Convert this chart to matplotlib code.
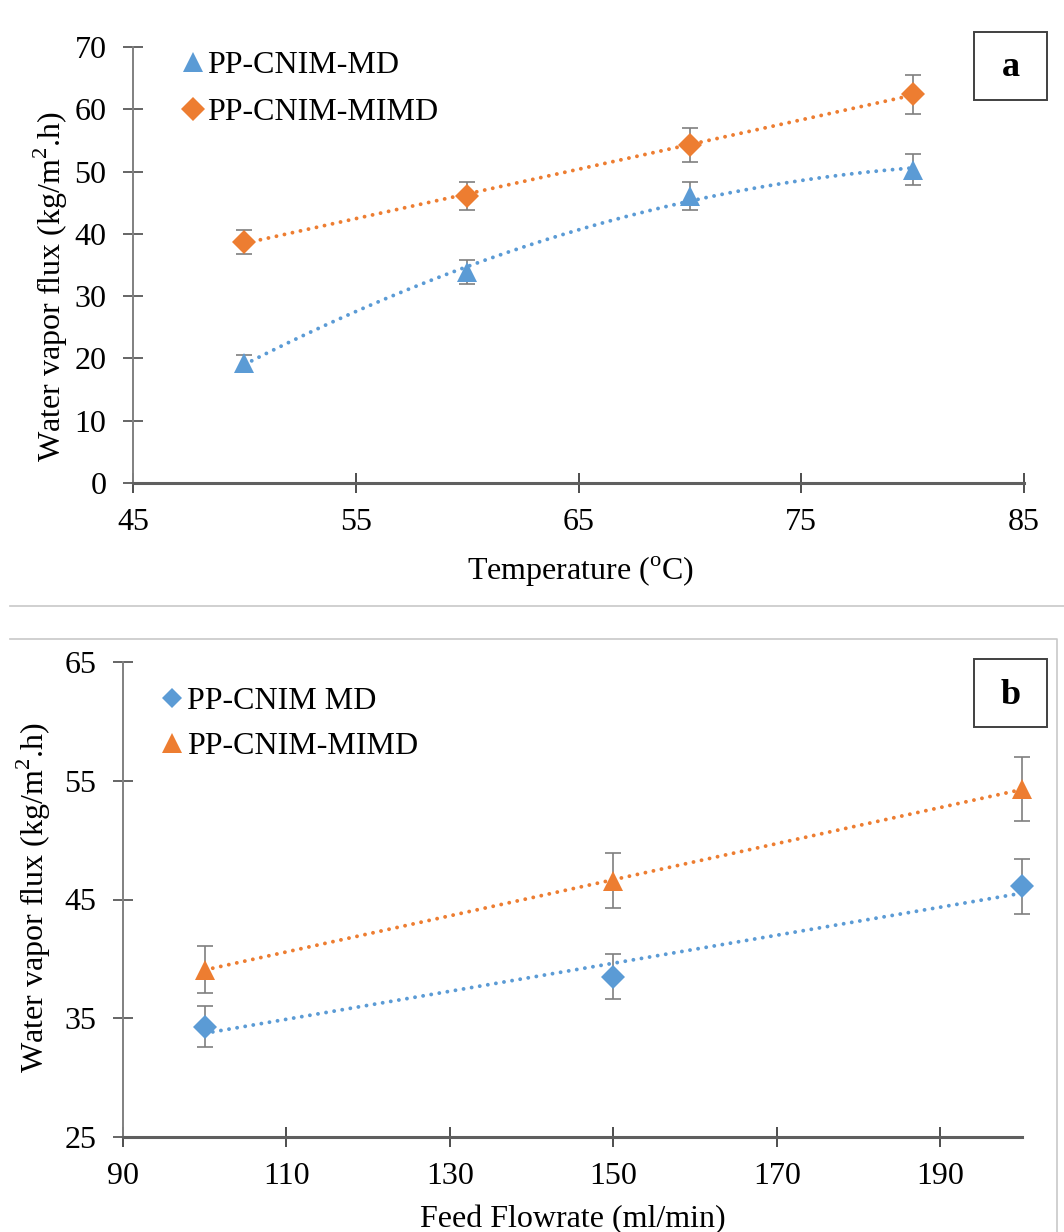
import numpy as np
import matplotlib
matplotlib.use("Agg")
import matplotlib.pyplot as plt
from matplotlib.lines import Line2D
from matplotlib.patches import Rectangle

plt.rcParams["font.family"] = ["Liberation Serif", "DejaVu Serif"]
plt.rcParams["mathtext.fontset"] = "custom"
plt.rcParams["mathtext.rm"] = "Liberation Serif"
plt.rcParams["font.size"] = 23

BLUE = "#5B9BD5"
ORANGE = "#ED7D31"
GRAY = "#7f7f7f"

# ----------------------------
# (a) flux vs feed temperature
temperature = [50, 60, 70, 80]
md_flux_a = [19.3, 33.9, 46.1, 50.3]
md_err_a = [1.2, 1.9, 2.2, 2.5]
mimd_flux_a = [38.7, 46.1, 54.3, 62.4]
mimd_err_a = [1.9, 2.2, 2.7, 3.1]

# ----------------------------
# (b) flux vs feed flowrate
flowrate = [100, 150, 200]
md_flux_b = [34.3, 38.5, 46.1]
md_err_b = [1.7, 1.9, 2.3]
mimd_flux_b = [39.1, 46.6, 54.3]
mimd_err_b = [1.95, 2.35, 2.7]

a_xticks = [45, 55, 65, 75, 85]
a_yticks = [0, 10, 20, 30, 40, 50, 60, 70]
b_xticks = [90, 110, 130, 150, 170, 190]
b_yticks = [25, 35, 45, 55, 65]

DOTS = (0, (0.01, 2.1))


def series(ax, x, y, err, color, marker, ms, deg, label):
    x = np.asarray(x, dtype=float)
    y = np.asarray(y, dtype=float)
    eb = ax.errorbar(x, y, yerr=err, fmt="none", ecolor=GRAY, elinewidth=1.2,
                     capsize=5.5, capthick=1.2, zorder=2)
    for art in eb.get_children():
        art.set_clip_on(False)
    # excel style trendline
    coef = np.polyfit(x, y, deg)
    xs = np.linspace(x.min(), x.max(), 200)
    ax.plot(xs, np.polyval(coef, xs), linestyle=DOTS, color=color,
            linewidth=2.8, dash_capstyle="round", zorder=3)
    ax.plot(x, y, linestyle="none", marker=marker, markersize=ms,
            color=color, markeredgewidth=0, zorder=4, label=label,
            clip_on=False)


def style_axes(ax):
    for s in ("top", "right"):
        ax.spines[s].set_visible(False)
    ax.spines["left"].set_color("#808080")
    ax.spines["left"].set_linewidth(1.4)
    ax.spines["bottom"].set_color("#5f5f5f")
    ax.spines["bottom"].set_linewidth(2.2)
    ax.tick_params(axis="y", direction="inout", length=14, width=1.3,
                   color="#595959", pad=12)
    ax.tick_params(axis="x", direction="inout", length=14, width=1.3,
                   color="#404040", pad=11)


fig = plt.figure(figsize=(10.64, 12.32), dpi=100)

# ==========================================================
# Panel a

ax1 = fig.add_axes([133 / 1064, 1 - 483 / 1232, 891 / 1064, 436 / 1232])
series(ax1, temperature, md_flux_a, md_err_a, BLUE, "^", 15, 2, "PP-CNIM-MD")
series(ax1, temperature, mimd_flux_a, mimd_err_a, ORANGE, "D", 12, 1,
       "PP-CNIM-MIMD")
ax1.set_xlim(45, 85)
ax1.set_ylim(0, 70)
ax1.set_xticks(a_xticks)
ax1.set_yticks(a_yticks)
style_axes(ax1)
ax1.set_xlabel("Temperature ($^{\\mathrm{o}}$C)")
ax1.set_ylabel("Water vapor flux (kg/m$^{2}$.h)")
ax1.xaxis.set_label_coords(0.502, -0.165)
ax1.yaxis.set_label_coords(-0.071, 0.45)
ax1.legend(loc="upper left", bbox_to_anchor=(0.042, 1.02), frameon=False,
           handlelength=0.6, handletextpad=0.15, labelspacing=0.55,
           borderaxespad=0)

# ==========================================================
# Panel b

ax2 = fig.add_axes([123 / 1064, 1 - 1137 / 1232, 899 / 1064, 475 / 1232])
series(ax2, flowrate, md_flux_b, md_err_b, BLUE, "D", 12, 1, "PP-CNIM MD")
series(ax2, flowrate, mimd_flux_b, mimd_err_b, ORANGE, "^", 15, 1,
       "PP-CNIM-MIMD")
ax2.set_xlim(90, 200)
ax2.set_ylim(25, 65)
ax2.set_xticks(b_xticks)
ax2.set_yticks(b_yticks)
style_axes(ax2)
ax2.set_xlabel("Feed Flowrate (ml/min)")
ax2.set_ylabel("Water vapor flux (kg/m$^{2}$.h)")
ax2.xaxis.set_label_coords(0.5, -0.143)
ax2.yaxis.set_label_coords(-0.078, 0.503)
leg = ax2.legend(loc="upper left", bbox_to_anchor=(0.03, 0.975),
                 frameon=False, handlelength=0.6, handletextpad=0.15,
                 labelspacing=0.5, borderaxespad=0)
leg.legend_handles[0].set_markersize(10)
leg.legend_handles[1].set_markersize(15)

# ==========================================================
# Frames and panel tags

fig.add_artist(Line2D([10 / 1064, 1], [1 - 606 / 1232] * 2,
                      color="#c8c8c8", lw=1.2))
fig.add_artist(Line2D([10 / 1064, 1057 / 1064, 1057 / 1064],
                      [1 - 639 / 1232, 1 - 639 / 1232, 0],
                      color="#c8c8c8", lw=1.2))

for tag, top in (("a", 32), ("b", 659)):
    fig.add_artist(Rectangle((974 / 1064, 1 - (top + 68) / 1232),
                             73 / 1064, 68 / 1232, fill=False,
                             edgecolor="#404040", lw=1.4))
    fig.text(1010.5 / 1064, 1 - (top + 36) / 1232, tag, ha="center",
             va="center", fontsize=26, fontweight="bold")

fig.savefig("out.png", dpi=100, facecolor="white")
